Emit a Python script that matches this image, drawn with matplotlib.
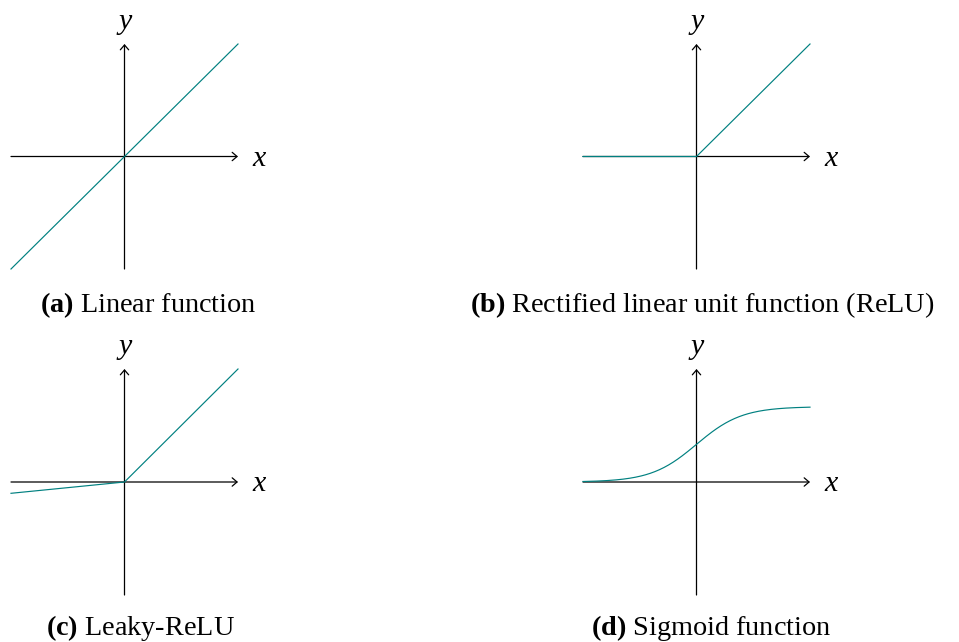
import numpy as np
import matplotlib.pyplot as plt

plt.rcParams['font.family'] = 'Liberation Serif'
plt.rcParams['mathtext.fontset'] = 'custom'
plt.rcParams['mathtext.rm'] = 'Liberation Serif'
plt.rcParams['mathtext.bf'] = 'Liberation Serif:bold'
plt.rcParams['mathtext.it'] = 'Liberation Serif:italic'

# activation functions, drawn over each panel's full domain
linear_x = [-1, 1]
linear_y = [-1, 1]

relu_x = [-1, 0, 1]
relu_y = [0, 0, 1]

leaky_x = [-1, 0, 1]
leaky_y = [-0.1, 0, 1]

sigmoid_x = np.linspace(-5, 5, 200)
sigmoid_y = 1 / (1 + np.exp(-sigmoid_x))

captions = ['(a)', '(b)', '(c)', '(d)']
names = ['Linear function', 'Rectified linear unit function (ReLU)',
         'Leaky-ReLU', 'Sigmoid function']

W, H = 959, 642
teal = '#008080'
fs = 21.5
cap_fs = 20.3

fig = plt.figure(figsize=(W / 100, H / 100), dpi=100)


def panel(box, xs, ys, xlim, ylim):
    # box = left, right, top, bottom in pixels
    l, r, t, b = box
    ax = fig.add_axes([l / W, 1 - b / H, (r - l) / W, (b - t) / H])
    ax.set_xlim(xlim)
    ax.set_ylim(ylim)
    ax.axis('off')
    arrow = dict(arrowstyle='->,head_length=0.35,head_width=0.3', lw=0.9,
                 color='black', shrinkA=0, shrinkB=0)
    ax.annotate('', xy=(xlim[1], 0), xytext=(xlim[0], 0), arrowprops=arrow,
                annotation_clip=False)
    ax.annotate('', xy=(0, ylim[1]), xytext=(0, ylim[0]), arrowprops=arrow,
                annotation_clip=False)
    ax.plot(xs, ys, color=teal, lw=0.85, clip_on=False, zorder=5)
    ax.annotate('$x$', xy=(xlim[1], 0), xytext=(14, -9),
                textcoords='offset pixels', ha='left', va='baseline',
                fontsize=fs, annotation_clip=False)
    ax.annotate('$y$', xy=(0, ylim[1]), xytext=(0, 15),
                textcoords='offset pixels', ha='center', va='baseline',
                fontsize=fs, annotation_clip=False)
    return ax


panel((11, 238, 44, 269), linear_x, linear_y, (-1, 1), (-1, 1))
panel((583, 810, 44, 269), relu_x, relu_y, (-1, 1), (-1, 1))
panel((11, 238, 369, 595), leaky_x, leaky_y, (-1, 1), (-1, 1))
panel((583, 810, 369, 595), sigmoid_x, sigmoid_y, (-5, 5), (-1.5, 1.5))

# sub-captions under each panel
cap_pos = [(148, 312), (702, 312), (140, 635), (711, 635)]
for (cx, by), c, n in zip(cap_pos, captions, names):
    fig.text(cx / W, 1 - by / H, r'$\mathbf{' + c + '}$ ' + n,
             ha='center', va='baseline', fontsize=cap_fs)

fig.savefig('out.png', dpi=100)
